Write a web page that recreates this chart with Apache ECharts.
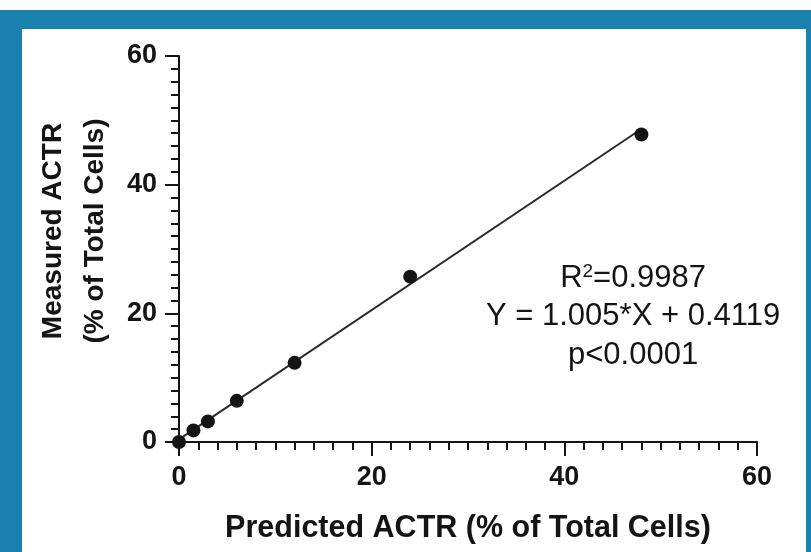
<!DOCTYPE html>
<html>
<head>
<meta charset="utf-8">
<script src="https://cdn.jsdelivr.net/npm/echarts@6/dist/echarts.min.js"></script>
<style>
  html, body { margin: 0; padding: 0; background: #ffffff; }
  #chart { width: 811px; height: 552px; }
</style>
</head>
<body>
<div id="chart"></div>
<script>
// Predicted vs measured ACTR (% of total cells)
const predicted = [0, 1.5, 3, 6, 12, 24, 48];
const measured = [0, 1.8, 3.2, 6.4, 12.3, 25.7, 47.8];

// Linear regression reported for the dilution series
const slope = 1.005;
const intercept = 0.4119;
const fitRange = [0, 48];
const statLines = ['R{sup|2}=0.9987', 'Y = 1.005*X + 0.4119', 'p<0.0001'];

const axisTicks = [0, 20, 40, 60];

const points = predicted.map((x, i) => [x, measured[i]]);
const fitLine = fitRange.map(x => [x, slope * x + intercept]);

const ink = '#141414';
const frameBlue = '#1a80ad';
const font = '"Liberation Sans", Arial, Helvetica, sans-serif';

const chart = echarts.init(document.getElementById('chart'), null, { renderer: 'canvas' });

function axisBase(name) {
  return {
    type: 'value',
    min: axisTicks[0],
    max: axisTicks[axisTicks.length - 1],
    interval: axisTicks[1] - axisTicks[0],
    name: name,
    nameLocation: 'middle',
    axisLine: { show: true, onZero: false, lineStyle: { color: ink, width: 2 } },
    axisTick: { show: true, inside: false, length: 14, lineStyle: { color: ink, width: 2 } },
    minorTick: { show: true, splitNumber: 10, length: 8, lineStyle: { color: ink, width: 2 } },
    splitLine: { show: false },
    minorSplitLine: { show: false },
    axisLabel: { color: ink, fontFamily: font, fontWeight: 'bold', fontSize: 27 }
  };
}

const xAxis = axisBase('Predicted ACTR (% of Total Cells)');
xAxis.nameGap = 71;
xAxis.nameTextStyle = { color: ink, fontFamily: font, fontWeight: 'bold', fontSize: 30.5 };
xAxis.axisLabel.margin = 22;

const yAxis = axisBase('Measured ACTR\n(% of Total Cells)');
yAxis.nameGap = 62;
yAxis.nameRotate = 90;
yAxis.nameTextStyle = {
  color: ink, fontFamily: font, fontWeight: 'bold', fontSize: 28, lineHeight: 42,
  padding: [0, 0, 0, 36]
};
yAxis.axisLabel.margin = 22;

chart.setOption({
  animation: false,
  backgroundColor: '#ffffff',
  grid: { left: 179, right: 54, top: 56, bottom: 110, containLabel: false, outerBoundsMode: 'none' },
  xAxis: xAxis,
  yAxis: yAxis,
  graphic: [
    { type: 'rect', silent: true, z: -10, shape: { x: 0, y: 10, width: 811, height: 19 }, style: { fill: frameBlue } },
    { type: 'rect', silent: true, z: -10, shape: { x: 0, y: 10, width: 22, height: 542 }, style: { fill: frameBlue } },
    { type: 'rect', silent: true, z: -10, shape: { x: 806, y: 10, width: 5, height: 542 }, style: { fill: frameBlue } },
    {
      type: 'group', left: 486, top: 262,
      children: statLines.map((t, i) => ({
        type: 'text',
        x: 150, y: i * 39,
        style: {
          text: t, fill: ink, fontFamily: font, fontSize: 31,
          textAlign: 'center', textVerticalAlign: 'top',
          rich: {
            sup: { fontFamily: font, fontSize: 19, fill: ink, padding: [0, 0, 14, 0] }
          }
        }
      }))
    }
  ],
  series: [
    {
      type: 'line',
      data: fitLine,
      symbol: 'none',
      lineStyle: { color: '#2a2a2a', width: 2 },
      z: 3
    },
    {
      type: 'scatter',
      data: points,
      symbol: 'circle',
      symbolSize: 14,
      itemStyle: { color: ink, opacity: 1 },
      z: 5
    }
  ]
});
</script>
</body>
</html>
